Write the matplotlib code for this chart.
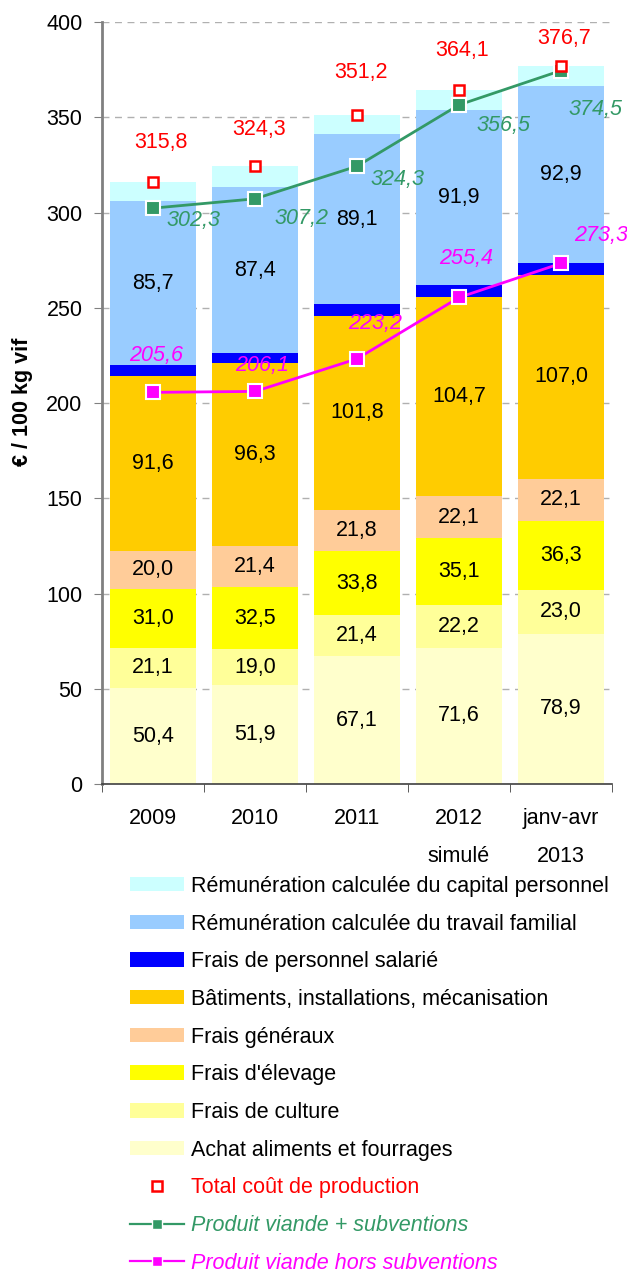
import matplotlib
matplotlib.use("Agg")
import matplotlib.pyplot as plt
from matplotlib.patches import Patch
from matplotlib.lines import Line2D
import numpy as np

plt.rcParams["font.family"] = ["Liberation Sans", "DejaVu Sans"]

years = ["2009", "2010", "2011", "2012\nsimulé", "janv-avr\n2013"]

# stacked cost components, bottom to top (€ / 100 kg vif)
achat = [50.4, 51.9, 67.1, 71.6, 78.9]
culture = [21.1, 19.0, 21.4, 22.2, 23.0]
elevage = [31.0, 32.5, 33.8, 35.1, 36.3]
generaux = [20.0, 21.4, 21.8, 22.1, 22.1]
batiments = [91.6, 96.3, 101.8, 104.7, 107.0]
salarie = [6.0, 5.0, 6.0, 6.3, 6.0]
travail = [85.7, 87.4, 89.1, 91.9, 92.9]
capital = [10.0, 10.8, 10.2, 10.2, 10.5]

total = [315.8, 324.3, 351.2, 364.1, 376.7]
produit_subv = [302.3, 307.2, 324.3, 356.5, 374.5]
produit_hors = [205.6, 206.1, 223.2, 255.4, 273.3]

layers = [
    ("Achat aliments et fourrages", achat, "#FFFFCC", True),
    ("Frais de culture", culture, "#FFFF99", True),
    ("Frais d'élevage", elevage, "#FFFF00", True),
    ("Frais généraux", generaux, "#FFCC99", True),
    ("Bâtiments, installations, mécanisation", batiments, "#FFCC00", True),
    ("Frais de personnel salarié", salarie, "#0000FF", False),
    ("Rémunération calculée du travail familial", travail, "#99CCFF", True),
    ("Rémunération calculée du capital personnel", capital, "#CCFFFF", False),
]

GREEN = "#339966"
MAGENTA = "#FF00FF"
RED = "#FF0000"
FS = 15.5
PX = 72 / 100  # pixels -> points at dpi 100

# label offsets from the markers, in pixels (dx, dy up)
RED_OFF = [(8, 40), (4, 37), (4, 42), (3, 40), (3, 28)]
GREEN_OFF = [(40, -12), (47, -20), (41, -13), (45, -21), (35, -39)]
MAG_OFF = [(3, 37), (7, 26), (18, 35), (7, 39), (40, 28)]


def fr(v):
    return f"{v:.1f}".replace(".", ",")


fig = plt.figure(figsize=(6.27, 12.73), dpi=100)
ax = fig.add_axes([0.1627, 0.3841, 0.8133, 0.5986])

x = np.arange(len(years))
bottom = np.zeros(len(years))
for name, vals, col, show in layers:
    vals = np.array(vals)
    ax.bar(x, vals, 0.84, bottom=bottom, color=col, linewidth=0, zorder=2)
    if show:
        for xi, b, v in zip(x, bottom, vals):
            ax.text(xi, b + v / 2, fr(v), ha="center", va="center",
                    fontsize=FS, color="black", zorder=5)
    bottom += vals

# lines
ax.plot(x, produit_subv, color=GREEN, lw=2, marker="s", ms=9.5,
        mfc=GREEN, mec="white", mew=1.5, zorder=4)
ax.plot(x, produit_hors, color=MAGENTA, lw=2, marker="s", ms=9.5,
        mfc=MAGENTA, mec="white", mew=1.5, zorder=4)
ax.plot(x, total, ls="none", marker="s", ms=7.5, mfc="white", mec=RED,
        mew=1.8, zorder=6)


def label(vals, offs, color, style):
    for xi, v, (dx, dy) in zip(x, vals, offs):
        ax.annotate(fr(v), (xi, v), xytext=(dx * PX, dy * PX),
                    textcoords="offset points", ha="center", va="center",
                    fontsize=FS, color=color, style=style, zorder=6,
                    annotation_clip=False)


label(total, RED_OFF, RED, "normal")
label(produit_subv, GREEN_OFF, GREEN, "italic")
label(produit_hors, MAG_OFF, MAGENTA, "italic")

ax.set_xlim(-0.5, len(years) - 0.5)
ax.set_ylim(0, 400)
ax.set_yticks(np.arange(0, 401, 50))
ax.tick_params(axis="y", labelsize=FS, direction="out", length=6,
               color="#808080", pad=8)
ax.set_xticks(x)
ax.set_xticklabels(years, fontsize=FS, linespacing=2.1)
ax.tick_params(axis="x", length=0, pad=17)
ax.set_xticks(np.arange(-0.5, len(years)), minor=True)
ax.tick_params(axis="x", which="minor", length=6, color="#404040")
ax.yaxis.grid(True, ls=(0, (5, 4)), color="#B0B0B0", lw=1, zorder=0)
ax.set_axisbelow(True)
for s in ("top", "right"):
    ax.spines[s].set_visible(False)
ax.spines["left"].set_color("#808080")
ax.spines["left"].set_linewidth(2)
ax.spines["bottom"].set_color("#404040")
ax.spines["bottom"].set_linewidth(1.2)
ax.set_ylabel("€ / 100 kg vif", fontsize=15.5, fontweight="bold",
              va="center")
ax.yaxis.set_label_coords(-0.155, 0.501)

handles = [Patch(facecolor=col, edgecolor="none", label=name)
           for name, vals, col, show in layers[::-1]]
handles.append(Line2D([], [], ls="none", marker="s", ms=7.5, mfc="white",
                      mec=RED, mew=1.8, label="Total coût de production"))
handles.append(Line2D([], [], color=GREEN, lw=1.6, marker="s", ms=7,
                      mfc=GREEN, mec="white", label="Produit viande + subventions"))
handles.append(Line2D([], [], color=MAGENTA, lw=1.6, marker="s", ms=7,
                      mfc=MAGENTA, mec="white",
                      label="Produit viande hors subventions"))
leg = fig.legend(handles=handles, loc="upper left",
                 bbox_to_anchor=(0.208, 0.312), frameon=False, fontsize=FS,
                 handlelength=2.5, handleheight=0.65, handletextpad=0.33,
                 labelspacing=0.775, borderpad=0, borderaxespad=0)
texts = leg.get_texts()
texts[8].set_color(RED)
texts[9].set_color(GREEN)
texts[9].set_style("italic")
texts[10].set_color(MAGENTA)
texts[10].set_style("italic")

fig.savefig("out.png", dpi=100)
